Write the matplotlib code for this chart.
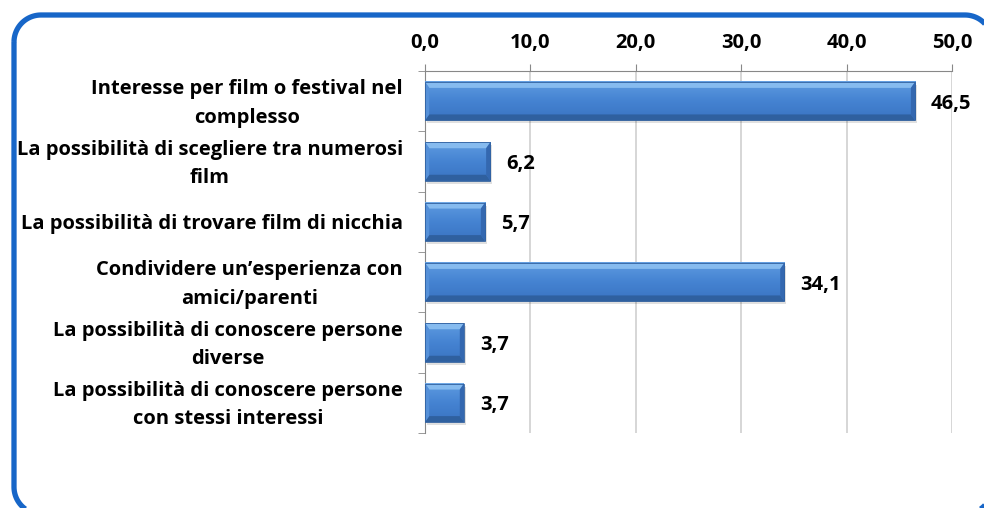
import matplotlib
matplotlib.use("Agg")
import matplotlib.pyplot as plt
import numpy as np
from matplotlib.patches import Polygon, Rectangle
from matplotlib.colors import LinearSegmentedColormap

categories = [
    "Interesse per film o festival nel\ncomplesso",
    "La possibilità di scegliere tra numerosi\nfilm",
    "La possibilità di trovare film di nicchia",
    "Condividere un\u2019esperienza con\namici/parenti",
    "La possibilità di conoscere persone\ndiverse",
    "La possibilità di conoscere persone\ncon stessi interessi",
]
values = [46.5, 6.2, 5.7, 34.1, 3.7, 3.7]
xticks = [0, 10, 20, 30, 40, 50]

plt.rcParams['font.family'] = ['Open Sans', 'DejaVu Sans']
FS = 14.5

W, H = 984, 508
fig = plt.figure(figsize=(W / 100, H / 100), dpi=100)

# background axes in pixel units for the rounded border
bg = fig.add_axes([0, 0, 1, 1])
bg.set_xlim(0, W)
bg.set_ylim(H, 0)
bg.axis('off')


def rounded_rect(x0, y0, x1, y1, r, k=24):
    pts = []
    for cx, cy, a0 in [(x0 + r, y0 + r, 180), (x1 - r, y0 + r, 270),
                       (x1 - r, y1 - r, 0), (x0 + r, y1 - r, 90)]:
        a = np.radians(np.linspace(a0, a0 + 90, k))
        pts += list(zip(cx + r * np.cos(a), cy + r * np.sin(a)))
    return np.array(pts)


rr = rounded_rect(14, 15, 992, 514, 27)
bg.add_patch(Polygon(rr, closed=True, fill=False, edgecolor="#1766C8", linewidth=3.8,
                     joinstyle='round'))

ax = fig.add_axes([425 / W, 1 - 433 / H, (952 - 425) / W, (433 - 71) / H])
n = len(categories)
ypos = np.arange(n)
h = 0.64
bx = 0.40   # bevel width (x units)
by = 0.10   # bevel height (category units)
cmap = LinearSegmentedColormap.from_list("face", ["#5E9BE0", "#4583D2", "#3A74C2"])
grad = np.linspace(0, 1, 64).reshape(-1, 1)
for y, v in zip(ypos, values):
    top, bot = y - h / 2, y + h / 2
    ax.add_patch(Rectangle((0.15, top + 0.05), v, h, facecolor="#000000", alpha=0.12,
                           edgecolor='none', zorder=2))
    ax.imshow(grad, aspect='auto', cmap=cmap, extent=(0, v, bot, top),
              zorder=3, interpolation='bilinear')
    ax.add_patch(Polygon([(0, top), (v, top), (v - bx, top + by), (bx, top + by)],
                         closed=True, facecolor="#86BBEF", edgecolor='none', zorder=4))
    ax.add_patch(Polygon([(0, bot), (v, bot), (v - bx, bot - by), (bx, bot - by)],
                         closed=True, facecolor="#2F609F", edgecolor='none', zorder=4))
    ax.add_patch(Polygon([(0, top), (bx, top + by), (bx, bot - by), (0, bot)],
                         closed=True, facecolor="#5590D8", edgecolor='none', zorder=4))
    ax.add_patch(Polygon([(v, top), (v - bx, top + by), (v - bx, bot - by), (v, bot)],
                         closed=True, facecolor="#3468B0", edgecolor='none', zorder=4))
    ax.add_patch(Rectangle((0, top), v, h, fill=False, edgecolor="#2F5F9E",
                           linewidth=0.6, zorder=5))
    ax.text(v + 1.5, y + 0.04, f"{v:.1f}".replace(".", ","), va='center', ha='left',
            fontsize=FS, fontweight='bold', color='black', zorder=6)

ax.set_xlim(0, 50)
ax.set_ylim(n - 0.5, -0.5)
ax.set_xticks(xticks)
ax.set_xticklabels([f"{t:.1f}".replace(".", ",") for t in xticks], fontsize=FS, fontweight='bold')
ax.xaxis.tick_top()
label_pos = [y - (0.07 if "\n" in c else 0.0) for y, c in zip(ypos, categories)]
ax.set_yticks(label_pos)
ax.set_yticklabels(categories, fontsize=FS, fontweight='bold', ha='right',
                   multialignment='center', linespacing=1.55)
ax.tick_params(axis='y', length=0, pad=16)
ax.set_yticks(np.arange(n + 1) - 0.5, minor=True)
ax.tick_params(axis='y', which='minor', length=5, color='#888888')
ax.tick_params(axis='x', length=5, color='#888888', pad=8)
ax.grid(axis='x', color='#D0D0D0', linewidth=1.2, zorder=0)
ax.set_axisbelow(True)
for s in ['right', 'bottom']:
    ax.spines[s].set_visible(False)
for s in ['top', 'left']:
    ax.spines[s].set_color('#888888')

fig.savefig("out.png", dpi=100)
